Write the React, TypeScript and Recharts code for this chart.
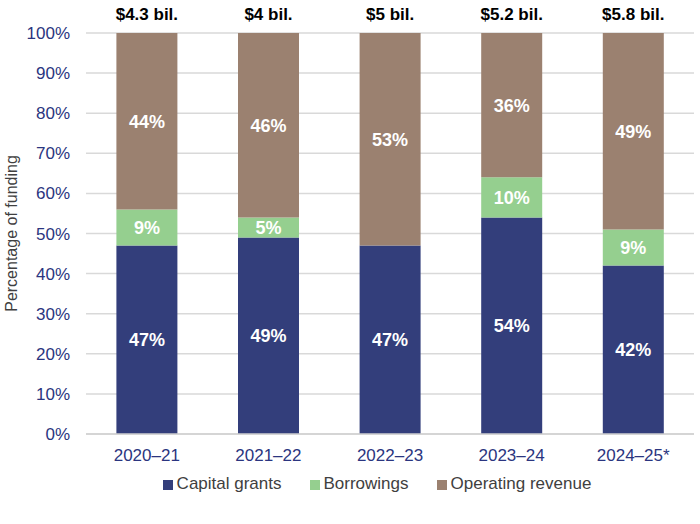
import { BarChart, Bar, XAxis, YAxis, CartesianGrid, Legend, LabelList } from 'recharts'

const years = ['2020–21', '2021–22', '2022–23', '2023–24', '2024–25*']
const capitalGrants = [47, 49, 47, 54, 42]
const borrowings = [9, 5, 0, 10, 9]
const operatingRevenue = [44, 46, 53, 36, 49]
const totals = ['$4.3 bil.', '$4 bil.', '$5 bil.', '$5.2 bil.', '$5.8 bil.']
const yTicks = [0, 10, 20, 30, 40, 50, 60, 70, 80, 90, 100]

const data = years.map((year, i) => ({
  year,
  capital: capitalGrants[i],
  borrow: borrowings[i],
  operating: operatingRevenue[i],
  total: totals[i],
}))

const font = '"Liberation Sans", Arial, sans-serif'
const navy = '#2b3580'

const pctLabel = (v: any) => (v ? `${v}%` : '')

const TotalLabel = (props: any) => {
  const { x, y, width, index } = props
  return (
    <text x={x + width / 2} y={y - 13} textAnchor="middle" fontFamily={font} fontSize={17} fontWeight="bold" fill="#000">
      {totals[index]}
    </text>
  )
}

export default function App() {
  return (
    <div style={{ position: 'absolute', left: 0, top: 0, background: '#fff' }}>
      <BarChart width={700} height={524} data={data} margin={{ top: 33, right: 6, left: 0, bottom: 30 }} barCategoryGap="25%">
        <CartesianGrid vertical={false} stroke="#d9d9d9" strokeWidth={1.5} />
        <XAxis
          dataKey="year"
          tickLine={false}
          axisLine={{ stroke: '#d0d0d0', strokeWidth: 1.5 }}
          tick={{ fill: navy, fontSize: 17, fontFamily: font }}
          tickMargin={9}
          height={40}
        />
        <YAxis
          domain={[0, 100]}
          ticks={yTicks}
          tickFormatter={(v) => `${v}%`}
          tickLine={false}
          axisLine={false}
          tick={{ fill: navy, fontSize: 17, fontFamily: font }}
          tickMargin={10}
          width={86}
          label={{ value: 'Percentage of funding', angle: -90, position: 'insideLeft', offset: 11, style: { fill: '#404040', fontSize: 16, fontFamily: font, textAnchor: 'middle' } }}
        />
        <Legend
          verticalAlign="bottom"
          iconType="square"
          iconSize={10}
          itemSorter={null}
          wrapperStyle={{ fontFamily: font, fontSize: 17, left: 44 }}
          formatter={(v) => <span style={{ color: '#404040', paddingRight: 18 }}>{v}</span>}
        />
        <Bar dataKey="capital" name="Capital grants" stackId="a" fill="#333e7b" isAnimationActive={false}>
          <LabelList dataKey="capital" position="center" formatter={pctLabel} fill="#fff" fontSize={18} fontWeight="bold" fontFamily={font} />
        </Bar>
        <Bar dataKey="borrow" name="Borrowings" stackId="a" fill="#95cf8f" isAnimationActive={false}>
          <LabelList dataKey="borrow" position="center" formatter={pctLabel} fill="#fff" fontSize={18} fontWeight="bold" fontFamily={font} />
        </Bar>
        <Bar dataKey="operating" name="Operating revenue" stackId="a" fill="#9b8170" isAnimationActive={false}>
          <LabelList dataKey="operating" position="center" formatter={pctLabel} fill="#fff" fontSize={18} fontWeight="bold" fontFamily={font} />
          <LabelList dataKey="total" content={TotalLabel} />
        </Bar>
      </BarChart>
    </div>
  )
}
